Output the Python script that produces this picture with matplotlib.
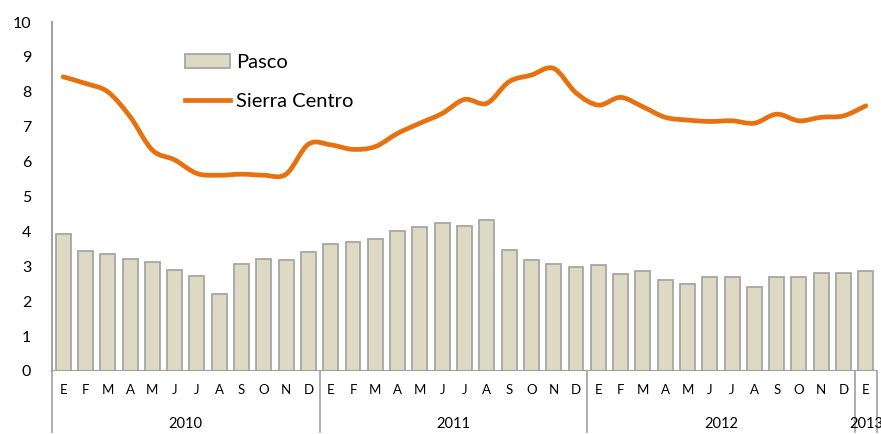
import matplotlib.pyplot as plt
import numpy as np
from matplotlib.path import Path
from matplotlib.patches import PathPatch
from matplotlib.lines import Line2D
from matplotlib.patches import Patch
import matplotlib.transforms as mtransforms

plt.rcParams['font.family'] = ['Lato', 'DejaVu Sans']

months = ['E', 'F', 'M', 'A', 'M', 'J', 'J', 'A', 'S', 'O', 'N', 'D'] * 3 + ['E']
years = ['2010', '2011', '2012', '2013']
year_counts = [12, 12, 12, 1]

pasco = [3.92, 3.45, 3.35, 3.20, 3.13, 2.88, 2.73, 2.21, 3.08, 3.22, 3.19, 3.40,
         3.65, 3.69, 3.78, 4.00, 4.13, 4.25, 4.16, 4.34, 3.47, 3.17, 3.07, 2.97,
         3.05, 2.79, 2.87, 2.62, 2.50, 2.69, 2.69, 2.41, 2.69, 2.69, 2.82, 2.82,
         2.87]
sierra_centro = [8.43, 8.24, 8.00, 7.29, 6.33, 6.05, 5.66, 5.61, 5.64, 5.61, 5.64, 6.50,
                 6.48, 6.35, 6.43, 6.81, 7.10, 7.38, 7.78, 7.67, 8.29, 8.48, 8.67, 7.97,
                 7.62, 7.84, 7.57, 7.27, 7.19, 7.15, 7.17, 7.10, 7.36, 7.17, 7.27, 7.31,
                 7.60]

bar_color = '#DDD9C3'
bar_edge = '#A6A6A6'
line_color = '#E8700E'
axis_color = '#A0A0A0'


def smooth_path(xs, ys):
    """Bezier path through the points (like a spreadsheet smoothed line)."""
    pts = np.column_stack([xs, ys])
    verts = [pts[0]]
    codes = [Path.MOVETO]
    n = len(pts)
    for i in range(n - 1):
        p0 = pts[i - 1] if i > 0 else pts[i]
        p1 = pts[i]
        p2 = pts[i + 1]
        p3 = pts[i + 2] if i + 2 < n else pts[i + 1]
        c1 = p1 + (p2 - p0) / 6.0
        c2 = p2 - (p3 - p1) / 6.0
        verts += [c1, c2, p2]
        codes += [Path.CURVE4] * 3
    return Path(verts, codes)


fig = plt.figure(figsize=(8.81, 4.34), dpi=100)
ax = fig.add_axes([52 / 881, 63 / 434, 825 / 881, 349 / 434])

x = np.arange(len(pasco))
ax.bar(x, pasco, width=0.67, color=bar_color, edgecolor=bar_edge, linewidth=1.3, zorder=2)
ax.add_patch(PathPatch(smooth_path(x, sierra_centro), facecolor='none',
                       edgecolor=line_color, linewidth=3.4, capstyle='round',
                       joinstyle='round', zorder=3))

ax.set_xlim(-0.5, len(pasco) - 0.5)
ax.set_ylim(0, 10)
ax.set_yticks(range(0, 11))
ax.tick_params(axis='y', length=0, labelsize=11.5, pad=15)
ax.set_xticks([])

for side in ['top', 'right', 'bottom']:
    ax.spines[side].set_visible(False)
ax.spines['left'].set_color(axis_color)
ax.spines['left'].set_linewidth(1.2)
ax.axhline(0, color=axis_color, linewidth=1.5, zorder=4)

# category axis: months and years
trans = mtransforms.blended_transform_factory(ax.transData, ax.transAxes)
for i, m in enumerate(months):
    ax.text(i, -19 / 349, m, transform=trans, ha='center', va='center',
            fontsize=9.5, clip_on=False)

start = 0
bounds = [-0.5]
for yr, cnt in zip(years, year_counts):
    center = start + (cnt - 1) / 2
    # the last year sits in a one-month slot at the right edge, as in the source
    ax.text(center, -53 / 349, yr, transform=trans, ha='center', va='center',
            fontsize=10.5, clip_on=False)
    start += cnt
    bounds.append(start - 0.5)

for b in bounds:
    ax.add_line(Line2D([b, b], [0, -61 / 349], transform=trans, color=axis_color,
                       linewidth=1.2, clip_on=False))
ax.add_line(Line2D([-0.5, -0.5], [0, 1], transform=trans, color=axis_color,
                   linewidth=1.2, clip_on=False))

handles = [Patch(facecolor=bar_color, edgecolor=bar_edge, linewidth=1.3, label='Pasco'),
           Line2D([0], [0], color=line_color, linewidth=3.4, label='Sierra Centro')]
ax.legend(handles=handles, loc='upper left', bbox_to_anchor=(0.161, 0.908),
          frameon=False, fontsize=14.5, handlelength=2.25, handletextpad=0.3,
          labelspacing=1.1, handleheight=0.7, borderpad=0, borderaxespad=0)

fig.savefig('out.png', dpi=100)
